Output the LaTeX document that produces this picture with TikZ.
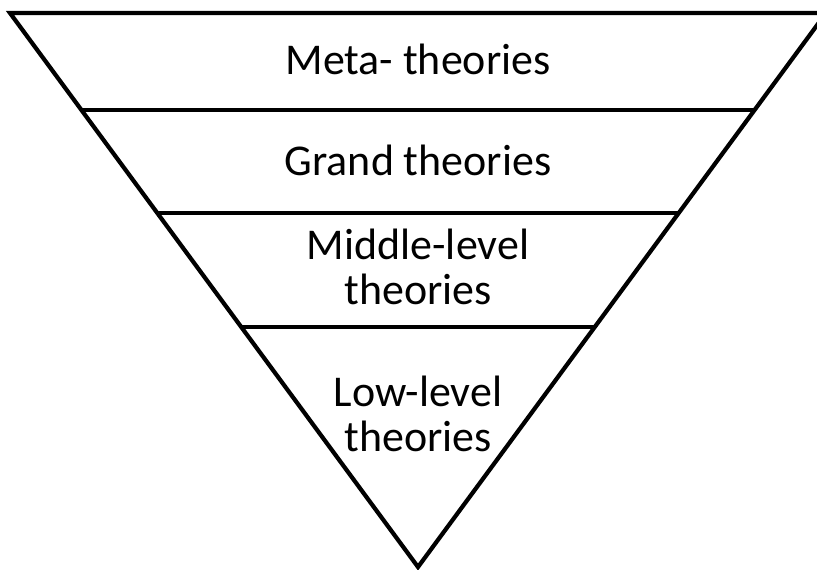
\documentclass[tikz,border=0pt]{standalone}
\usepackage{fontspec}
\setmainfont{Carlito}
\usetikzlibrary{calc}

\begin{document}
\begin{tikzpicture}[
    x=0.02cm, y=-0.02cm,
    edge/.style={black, line width=2.4pt},
    layer/.style={font=\fontsize{25}{25.5}\selectfont, align=center, inner sep=0pt},
  ]
    \path[use as bounding box] (0,0) rectangle (817,569);
    \clip (0,0) rectangle (817,569);
    % outer triangle
    \coordinate (tl) at (10,13);
    \coordinate (tr) at (826,13);
    \coordinate (apex) at (418,567);
    \draw[edge] (tl) -- (tr) -- (apex) -- cycle;
    % dividers
    \foreach \t/\n in {0.175/a, 0.361/b, 0.567/c} {
      \coordinate (l\n) at ($(tl)!\t!(apex)$);
      \coordinate (r\n) at ($(tr)!\t!(apex)$);
      \draw[edge] (l\n) -- (r\n);
    }
    \node[layer] (meta) at (418,59) {Meta- theories};
    \node[layer] (grand) at (418,160) {Grand theories};
    \node[layer] (middle) at (418,267) {Middle-level\\theories};
    \node[layer] (low) at (418,414) {Low-level\\theories};
  \end{tikzpicture}
\end{document}
